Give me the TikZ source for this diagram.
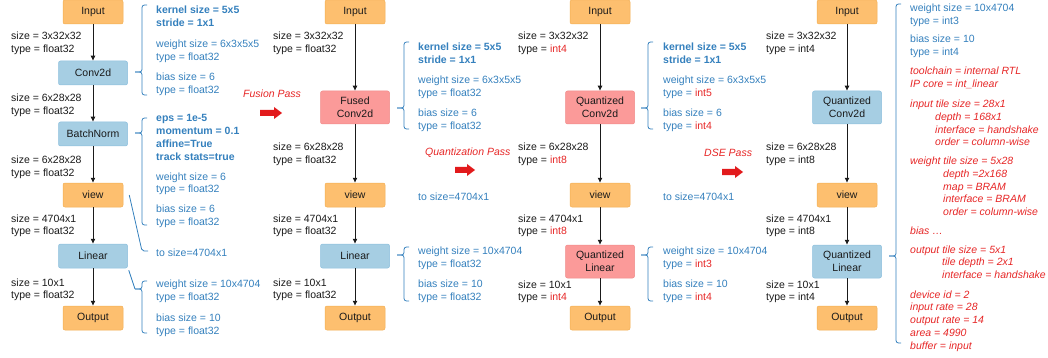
\documentclass[tikz,border=0pt]{standalone}
\usepackage{fontspec}
\setmainfont{Liberation Sans}
\usetikzlibrary{arrows.meta}
\definecolor{bluetxt}{RGB}{52,128,189}
\definecolor{redtxt}{RGB}{230,38,38}
\definecolor{redarrow}{RGB}{226,26,28}
\definecolor{ofill}{HTML}{FDBF6F}
\definecolor{odraw}{HTML}{F3AE52}
\definecolor{bfill}{HTML}{A6CEE3}
\definecolor{bdraw}{HTML}{8CBFDD}
\definecolor{pfill}{HTML}{FB9A99}
\definecolor{pdraw}{HTML}{F08A89}
\definecolor{ink}{HTML}{1A1A1A}
\newcommand\fs{\fontsize{10.5}{12.8}\selectfont}
\newcommand\redt[1]{\textcolor{redtxt}{#1}}
\newcommand\tlines[1]{\begin{tabular}[t]{@{}l@{}}#1\end{tabular}}
\newcommand\mybracket[4]{%
  \draw[brk, rounded corners=2.5pt] (#1+5,#2) -- (#1,#2) -- (#1,#4) -- (#1-7,#4);
  \draw[brk, rounded corners=2.5pt] (#1-7,#4) -- (#1,#4) -- (#1,#3) -- (#1+5,#3);}
\newcommand\blockarrow[3]{%
  \fill[redarrow] (#1,#3-3) -- (#2-8,#3-3) -- (#2-8,#3-6) -- (#2,#3) -- (#2-8,#3+6) -- (#2-8,#3+3) -- (#1,#3+3) -- cycle;}
\tikzset{
  box/.style={rounded corners=2pt, line width=0.5pt, inner sep=0pt, align=center, font=\fs, text=ink},
  obox/.style={box, fill=ofill, draw=odraw, minimum width=60pt, minimum height=24pt},
  bbox/.style={box, fill=bfill, draw=bdraw, minimum width=69pt, minimum height=24pt},
  bbbox/.style={box, fill=bfill, draw=bdraw, minimum width=69pt, minimum height=33pt},
  pbox/.style={box, fill=pfill, draw=pdraw, minimum width=69pt, minimum height=33pt},
  lbl/.style={anchor=base west, inner sep=0pt, font=\fs, text=ink},
  info/.style={lbl, text=bluetxt},
  binfo/.style={info, font=\fs\bfseries},
  rinfo/.style={lbl, text=redtxt, font=\fs\itshape},
  flow/.style={-{Latex[length=5pt,width=5pt]}, line width=0.7pt, draw=ink},
  brk/.style={draw=bluetxt, line width=0.8pt},
}
\begin{document}
\begin{tikzpicture}[x=1pt,y=-1pt]
\useasboundingbox (0,0) rectangle (1048,358);
% ---------------- column 1
\node[obox] (in1) at (93,12) {Input};
\node[bbox] (conv1) at (93,73) {Conv2d};
\node[bbox] (bn1) at (93,134) {BatchNorm};
\node[obox] (view1) at (93,195) {view};
\node[bbox] (lin1) at (93,256) {Linear};
\node[obox] (out1) at (93,318) {Output};
\draw[flow] (in1) -- (conv1);
\draw[flow] (conv1) -- (bn1);
\draw[flow] (bn1) -- (view1);
\draw[flow] (view1) -- (lin1);
\draw[flow] (lin1) -- (out1);
\node[lbl] (l1a) at (11,39.5) {\tlines{size = 3x32x32\\type = float32}};
\node[lbl] (l1b) at (11,101.5) {\tlines{size = 6x28x28\\type = float32}};
\node[lbl] (l1c) at (11,164) {\tlines{size = 6x28x28\\type = float32}};
\node[lbl] (l1d) at (11,222) {\tlines{size = 4704x1\\type = float32}};
\node[lbl] (l1e) at (11,286) {\tlines{size = 10x1\\type = float32}};
\node[binfo] (c1k) at (156,14) {\tlines{kernel size = 5x5\\stride = 1x1}};
\node[info] (c1w) at (156,48) {\tlines{weight size = 6x3x5x5\\type = float32}};
\node[info] (c1b) at (156,81) {\tlines{bias size = 6\\type = float32}};
\node[binfo] (b1p) at (156,122) {\tlines{eps = 1e-5\\momentum = 0.1\\affine=True\\track stats=true}};
\node[info] (b1w) at (156,180) {\tlines{weight size = 6\\type = float32}};
\node[info] (b1b) at (156,212.5) {\tlines{bias size = 6\\type = float32}};
\node[info] (v1t) at (156,256) {to size=4704x1};
\node[info] (l1w) at (156,287.5) {\tlines{weight size = 10x4704\\type = float32}};
\node[info] (l1b) at (156,321.5) {\tlines{bias size = 10\\type = float32}};
\mybracket{142}{5}{95}{72}
\mybracket{142}{118}{225}{133}
\mybracket{142}{281}{333}{289}
\draw[brk, rounded corners=2pt] ([xshift=6pt]view1.east) -- (142,251) -- (148,251);
\draw[brk] ([shift={(1,2)}]lin1.south east) -- (135,289);
% passes
\node[rinfo] (fp) at (243,98) {Fusion Pass};
\blockarrow{260}{282}{113}
\node[rinfo] (qp) at (425,156) {Quantization Pass};
\blockarrow{455}{475}{170}
\node[rinfo] (dp) at (704,157) {DSE Pass};
\blockarrow{722}{743}{172}
% ---------------- column 2
\node[obox] (in2) at (355,12) {Input};
\node[pbox] (conv2) at (355,107.5) {Fused\\Conv2d};
\node[obox] (view2) at (355,195) {view};
\node[bbox] (lin2) at (355,256) {Linear};
\node[obox] (out2) at (355,318) {Output};
\draw[flow] (in2) -- (conv2);
\draw[flow] (conv2) -- (view2);
\draw[flow] (view2) -- (lin2);
\draw[flow] (lin2) -- (out2);
\node[lbl] (l2a) at (273,39.5) {\tlines{size = 3x32x32\\type = float32}};
\node[lbl] (l2b) at (273,150.5) {\tlines{size = 6x28x28\\type = float32}};
\node[lbl] (l2d) at (273,222) {\tlines{size = 4704x1\\type = float32}};
\node[lbl] (l2e) at (273,286) {\tlines{size = 10x1\\type = float32}};
\node[binfo] (c2k) at (418,50.5) {\tlines{kernel size = 5x5\\stride = 1x1}};
\node[info] (c2w) at (418,84) {\tlines{weight size = 6x3x5x5\\type = float32}};
\node[info] (c2b) at (418,116.5) {\tlines{bias size = 6\\type = float32}};
\node[info] (v2t) at (418,200) {to size=4704x1};
\node[info] (l2w) at (418,254.5) {\tlines{weight size = 10x4704\\type = float32}};
\node[info] (l2b) at (418,287.5) {\tlines{bias size = 10\\type = float32}};
\mybracket{404}{42}{129}{108}
\mybracket{404}{247}{301}{255}
% ---------------- column 3
\node[obox] (in3) at (600,12) {Input};
\node[pbox] (conv3) at (600,107.5) {Quantized\\Conv2d};
\node[obox] (view3) at (600,195) {view};
\node[pbox] (lin3) at (600,261.5) {Quantized\\Linear};
\node[obox] (out3) at (600,318) {Output};
\draw[flow] (in3) -- (conv3);
\draw[flow] (conv3) -- (view3);
\draw[flow] (view3) -- (lin3);
\draw[flow] (lin3) -- (out3);
\node[lbl] (l3a) at (518,39.5) {\tlines{size = 3x32x32\\type = \redt{int4}}};
\node[lbl] (l3b) at (518,150.5) {\tlines{size = 6x28x28\\type = \redt{int8}}};
\node[lbl] (l3d) at (518,222) {\tlines{size = 4704x1\\type = \redt{int8}}};
\node[lbl] (l3e) at (518,288) {\tlines{size = 10x1\\type = \redt{int4}}};
\node[binfo] (c3k) at (663,50.5) {\tlines{kernel size = 5x5\\stride = 1x1}};
\node[info] (c3w) at (663,84) {\tlines{weight size = 6x3x5x5\\type = \redt{int5}}};
\node[info] (c3b) at (663,116.5) {\tlines{bias size = 6\\type = \redt{int4}}};
\node[info] (v3t) at (663,200) {to size=4704x1};
\node[info] (l3w) at (663,254.5) {\tlines{weight size = 10x4704\\type = \redt{int3}}};
\node[info] (l3b) at (663,287.5) {\tlines{bias size = 10\\type = \redt{int4}}};
\mybracket{648}{42}{129}{108}
\mybracket{648}{247}{301}{255}
% ---------------- column 4
\node[obox] (in4) at (847,12) {Input};
\node[bbbox] (conv4) at (847,107.5) {Quantized\\Conv2d};
\node[obox] (view4) at (847,195) {view};
\node[bbbox] (lin4) at (847,261.5) {Quantized\\Linear};
\node[obox] (out4) at (847,318) {Output};
\draw[flow] (in4) -- (conv4);
\draw[flow] (conv4) -- (view4);
\draw[flow] (view4) -- (lin4);
\draw[flow] (lin4) -- (out4);
\node[lbl] (l4a) at (766,39.5) {\tlines{size = 3x32x32\\type = int4}};
\node[lbl] (l4b) at (766,150.5) {\tlines{size = 6x28x28\\type = int8}};
\node[lbl] (l4d) at (766,222) {\tlines{size = 4704x1\\type = int8}};
\node[lbl] (l4e) at (766,288) {\tlines{size = 10x1\\type = int4}};
\mybracket{896}{4}{343}{256}
\node[info] (r1) at (910,11.5) {\tlines{weight size = 10x4704\\type = int3}};
\node[info] (r2) at (910,42.5) {\tlines{bias size = 10\\type = int4}};
\node[rinfo] (r3) at (910,75) {\tlines{toolchain = internal RTL\\IP core = int\_linear}};
\node[rinfo] (r4) at (910,107.5) {\tlines{input tile size = 28x1\\\hspace*{25pt}depth = 168x1\\\hspace*{25pt}interface = handshake\\\hspace*{25pt}order = column-wise}};
\node[rinfo] (r5) at (910,164.5) {\tlines{weight tile size = 5x28\\\hspace*{33pt}depth =2x168\\\hspace*{33pt}map = BRAM\\\hspace*{33pt}interface = BRAM\\\hspace*{33pt}order = column-wise}};
\node[rinfo] (r6) at (910,234.5) {bias …};
\node[rinfo] (r7) at (910,253) {\tlines{output tile size = 5x1\\\hspace*{32pt}tile depth = 2x1\\\hspace*{32pt}interface = handshake}};
\node[rinfo] (r8) at (910,298) {\tlines{device id = 2\\input rate = 28\\output rate = 14\\area = 4990\\buffer = input}};
\end{tikzpicture}
\end{document}
